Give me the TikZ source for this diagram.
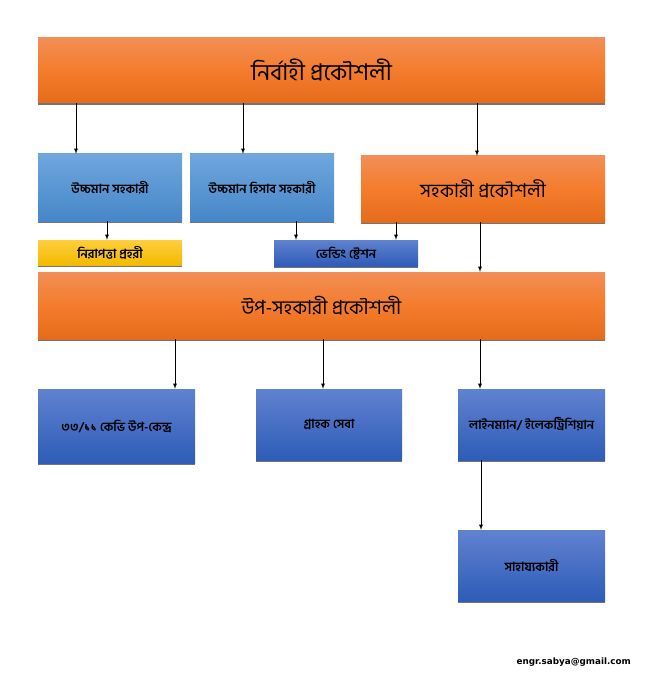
\documentclass[tikz,border=0pt]{standalone}
\usepackage{fontspec}
\newfontfamily\bnfont[Script=Bengali]{Hind Siliguri}
\newfontfamily\mailfont{DejaVu Sans}
\usetikzlibrary{shadows}

\tikzset{
  box/.style={inner sep=2pt, align=center, text=black,
    drop shadow={shadow xshift=0pt, shadow yshift=-1.6pt, fill=black!55, opacity=1}},
  orangebox/.style={box, top color={rgb,255:red,242;green,142;blue,86}, bottom color={rgb,255:red,228;green,108;blue,26},
    middle color={rgb,255:red,244;green,124;blue,44}},
  lightbluebox/.style={box, top color={rgb,255:red,111;green,166;blue,222},
    bottom color={rgb,255:red,70;green,135;blue,200}, font=\bnfont\bfseries\fontsize{12.5}{14}\selectfont},
  bluebox/.style={box, top color={rgb,255:red,96;green,130;blue,208},
    bottom color={rgb,255:red,46;green,92;blue,184}, font=\bnfont\bfseries\fontsize{12.5}{14}\selectfont},
  yellowbox/.style={box, top color={rgb,255:red,255;green,206;blue,60},
    bottom color={rgb,255:red,242;green,186;blue,0}, font=\bnfont\bfseries\fontsize{12.5}{14}\selectfont},
  arr/.style={-latex, line width=0.8pt}
}

\begin{document}
\begin{tikzpicture}[x=1pt, y=-1pt]
  \useasboundingbox[fill=white] (0,0) rectangle (644,676);
  % Executive engineer and staff
  \node[orangebox, minimum width=567pt, minimum height=65pt, font=\bnfont\fontsize{23}{26}\selectfont] (ee) at (321.5,70.5) {নির্বাহী প্রকৌশলী};
  \node[lightbluebox, minimum width=144pt, minimum height=67pt] (ha) at (110,187.5) {উচ্চমান সহকারী};
  \node[lightbluebox, minimum width=144pt, minimum height=67pt] (hacc) at (262,187.5) {উচ্চমান হিসাব সহকারী};
  \node[orangebox, minimum width=244pt, minimum height=66pt, font=\bnfont\fontsize{19}{22}\selectfont] (ae) at (483,189) {সহকারী প্রকৌশলী};
  \node[yellowbox, minimum width=144pt, minimum height=25pt] (guard) at (110,252.5) {নিরাপত্তা প্রহরী};
  \node[bluebox, minimum width=144pt, minimum height=26pt] (vend) at (346,253) {ভেন্ডিং ষ্টেশন};
  % Sub-assistant engineer and below
  \node[orangebox, minimum width=567pt, minimum height=67pt, font=\bnfont\fontsize{19.5}{22}\selectfont] (sae) at (321.5,305.5) {উপ-সহকারী প্রকৌশলী};
  \node[bluebox, minimum width=157pt, minimum height=74pt] (sub) at (116.5,426) {৩৩/১১ কেভি উপ-কেন্দ্র};
  \node[bluebox, minimum width=146pt, minimum height=71pt] (cust) at (329,424.5) {গ্রাহক সেবা};
  \node[bluebox, minimum width=147pt, minimum height=71pt] (line) at (531.5,424.5) {লাইনম্যান/ ইলেকট্রিশিয়ান};
  \node[bluebox, minimum width=147pt, minimum height=71pt] (help) at (531.5,565.5) {সাহায্যকারী};
  \node[anchor=east, inner sep=0pt, font=\mailfont\bfseries\fontsize{8.8}{10}\selectfont] (mail) at (631,662) {engr.sabya@gmail.com};

  \draw[arr] ([xshift=-34pt]ha.north |- ee.south) -- ([xshift=-34pt]ha.north);
  \draw[arr] ([xshift=-19pt]hacc.north |- ee.south) -- ([xshift=-19pt]hacc.north);
  \draw[arr] ([xshift=-6pt]ae.north |- ee.south) -- ([xshift=-6pt]ae.north);
  \draw[arr] ([xshift=-3pt]ha.south) -- ([xshift=-3pt]guard.north);
  \draw[arr] ([xshift=34pt]hacc.south) -- ([xshift=34pt]hacc.south |- vend.north);
  \draw[arr] ([xshift=-87pt]ae.south) -- ([xshift=-87pt]ae.south |- vend.north);
  \draw[arr] ([xshift=-3pt]ae.south) -- ([xshift=-3pt]ae.south |- sae.north);
  \draw[arr] ([xshift=58.5pt]sub.north |- sae.south) -- ([xshift=58.5pt]sub.north);
  \draw[arr] ([xshift=-6pt]cust.north |- sae.south) -- ([xshift=-6pt]cust.north);
  \draw[arr] ([xshift=-51.5pt]line.north |- sae.south) -- ([xshift=-51.5pt]line.north);
  \draw[arr] ([xshift=-50.5pt]line.south) -- ([xshift=-50.5pt]help.north);
\end{tikzpicture}
\end{document}
